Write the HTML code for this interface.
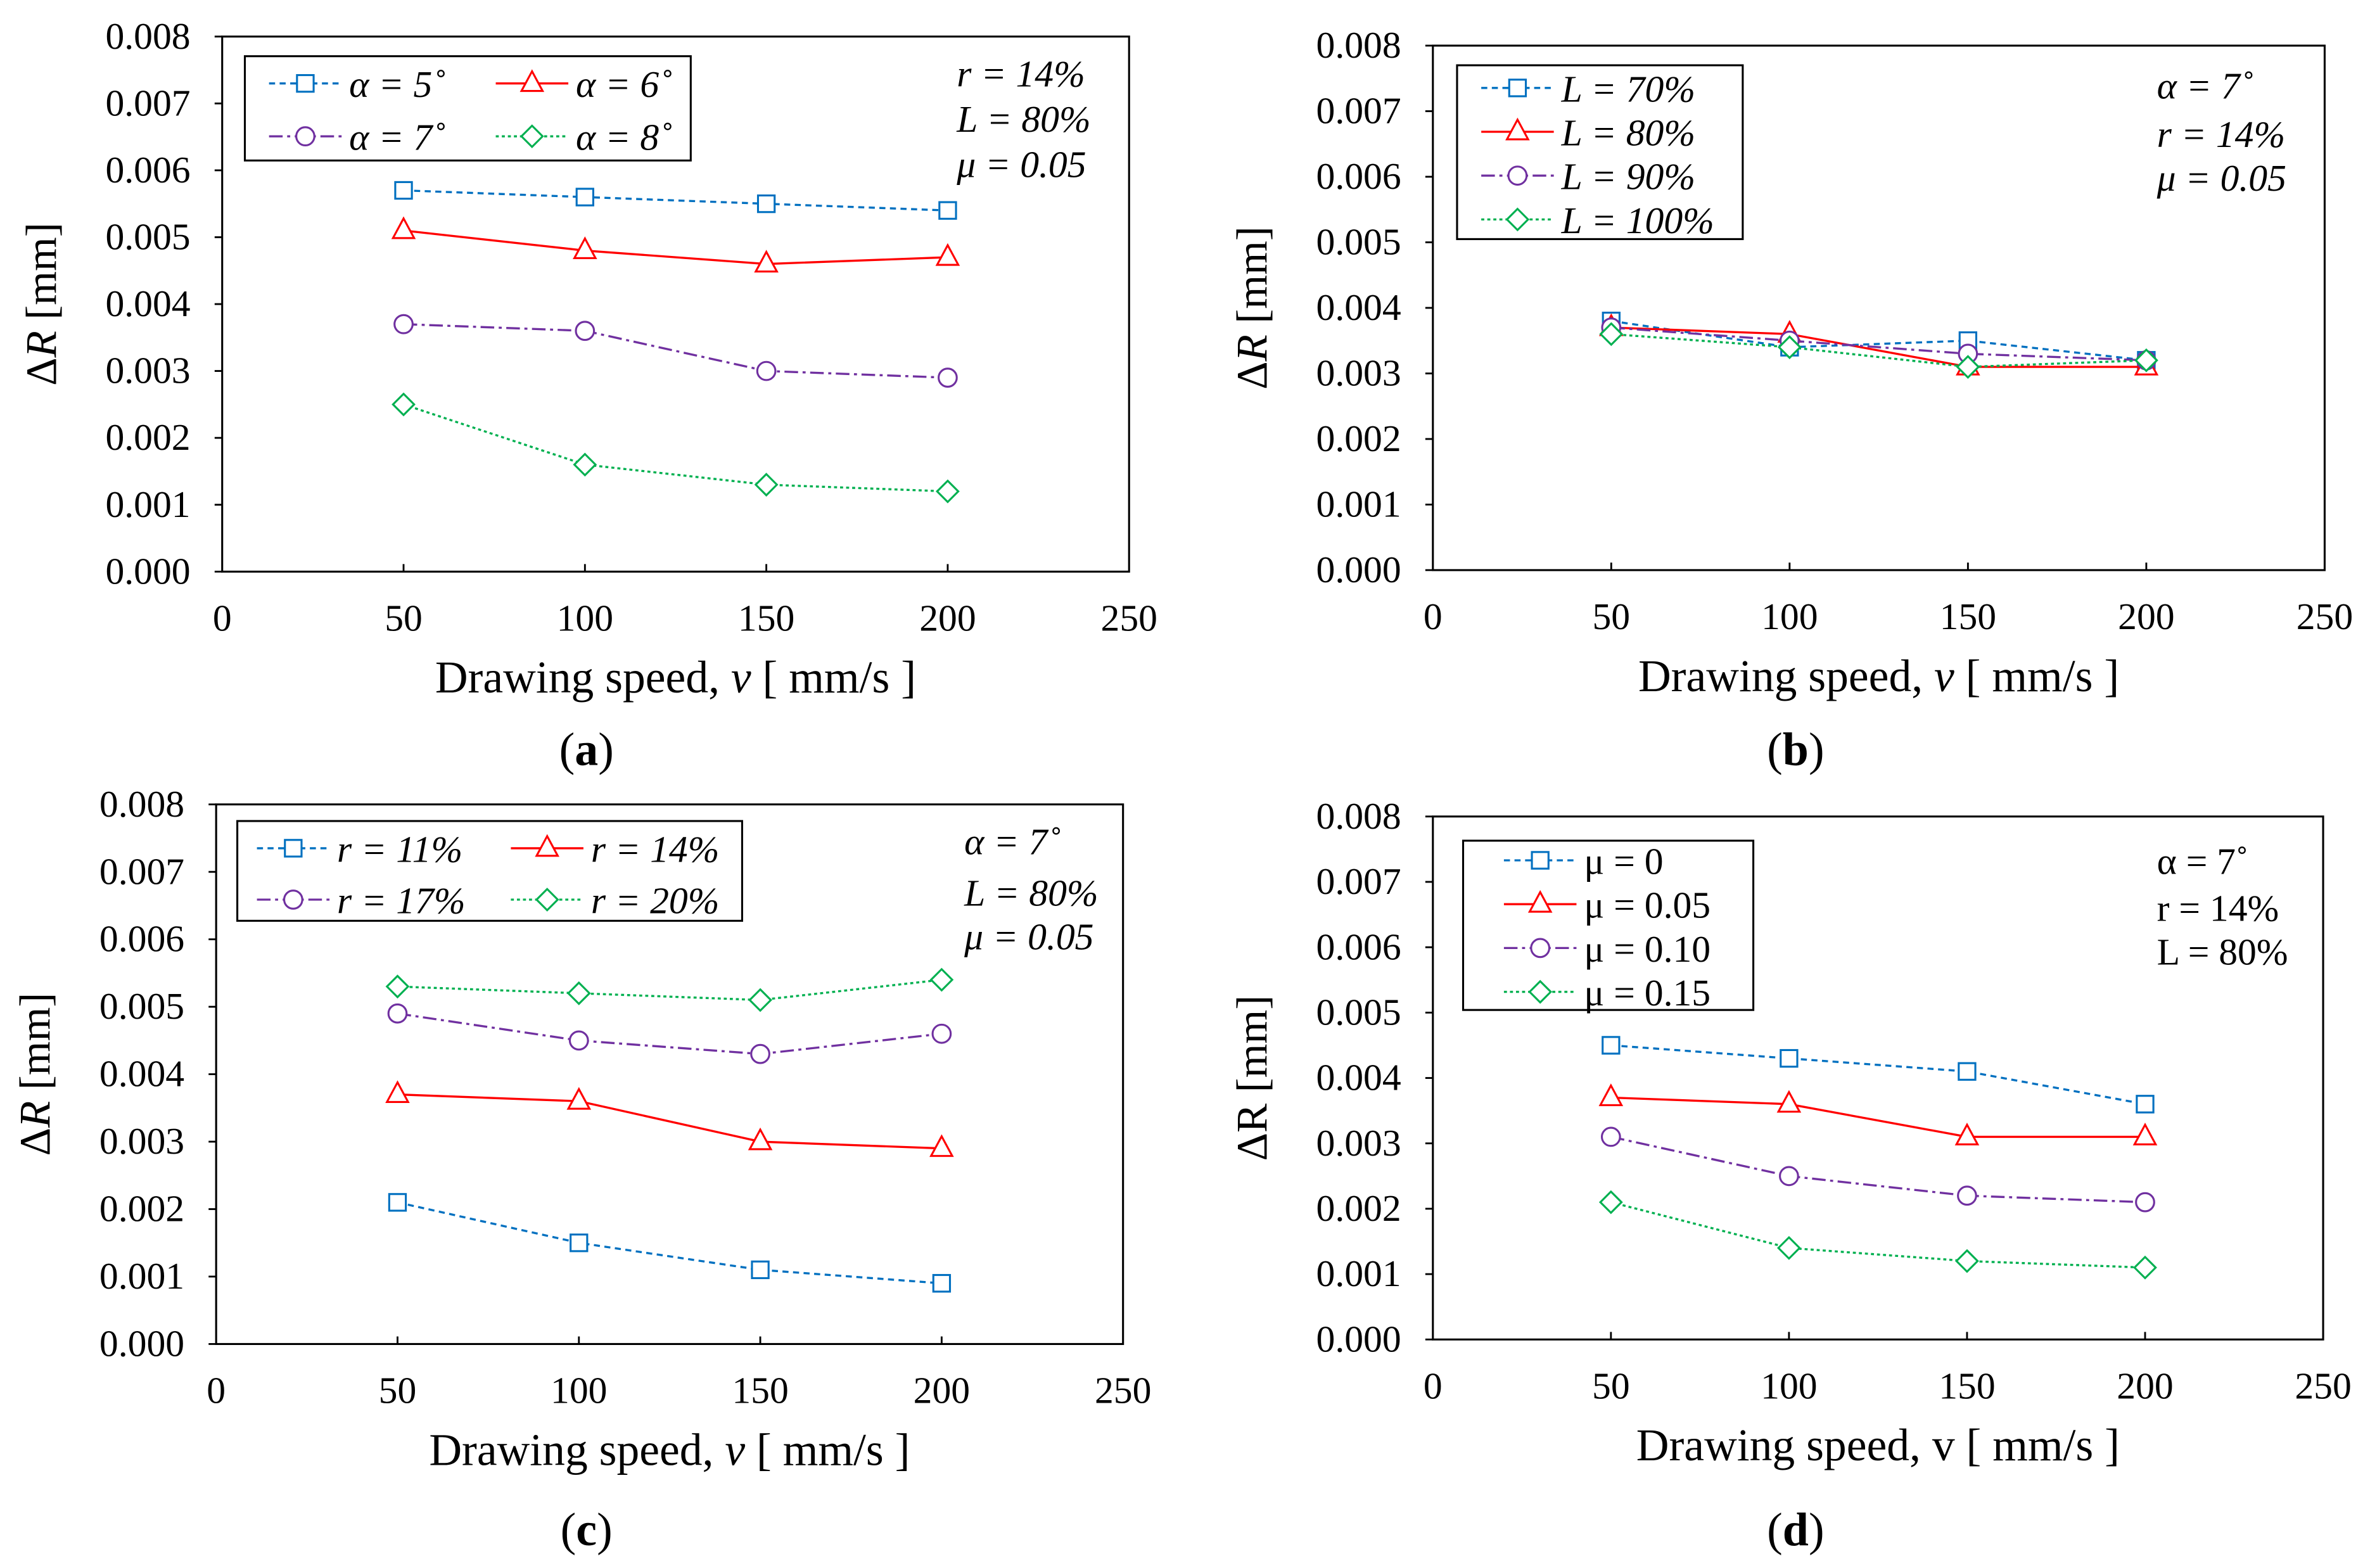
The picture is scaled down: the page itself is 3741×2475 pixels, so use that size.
<!DOCTYPE html>
<html><head><meta charset="utf-8"><style>html,body{margin:0;padding:0;background:#fff}svg{display:block}text{font-family:"Liberation Serif",serif;fill:#000}</style></head>
<body>
<svg id="s" xmlns="http://www.w3.org/2000/svg" width="3741" height="2475" viewBox="0 0 1568 1037"></svg>
<script>
const xTicks=[0,50,100,150,200,250];
const yTicks=["0.000","0.001","0.002","0.003","0.004","0.005","0.006","0.007","0.008"];
const speeds=[50,100,150,200];
const aLabels=["α = 5˚","α = 6˚","α = 7˚","α = 8˚"];
const aS1=[0.0057,0.0056,0.0055,0.0054];
const aS2=[0.0051,0.0048,0.0046,0.0047];
const aS3=[0.0037,0.0036,0.0030,0.0029];
const aS4=[0.0025,0.0016,0.0013,0.0012];
const bLabels=["L = 70%","L = 80%","L = 90%","L = 100%"];
const bS1=[0.0038,0.0034,0.0035,0.0032];
const bS2=[0.0037,0.0036,0.0031,0.0031];
const bS3=[0.0037,0.0035,0.0033,0.0032];
const bS4=[0.0036,0.0034,0.0031,0.0032];
const cLabels=["r = 11%","r = 14%","r = 17%","r = 20%"];
const cS1=[0.0021,0.0015,0.0011,0.0009];
const cS2=[0.0037,0.0036,0.0030,0.0029];
const cS3=[0.0049,0.0045,0.0043,0.0046];
const cS4=[0.0053,0.0052,0.0051,0.0054];
const dLabels=["μ = 0","μ = 0.05","μ = 0.10","μ = 0.15"];
const dS1=[0.0045,0.0043,0.0041,0.0036];
const dS2=[0.0037,0.0036,0.0031,0.0031];
const dS3=[0.0031,0.0025,0.0022,0.0021];
const dS4=[0.0021,0.0014,0.0012,0.0011];

const NS="http://www.w3.org/2000/svg";
const svg=document.getElementById('s');
function el(tag,attrs,parent,txt){const e=document.createElementNS(NS,tag);for(const k in attrs)e.setAttribute(k,attrs[k]);if(txt!==undefined)e.textContent=txt;(parent||svg).appendChild(e);return e;}
const colors=["#0070C0","#FF0000","#7030A0","#00B050"];
const dashes=["4,3","none","9,3,2,3","2,2"];
const mk=["square","triangle","circle","diamond"];
function marker(g,type,x,y,c){let m;
 if(type==="square")m=el('rect',{x:x-5.5,y:y-5.5,width:11,height:11,fill:'#fff',stroke:c,'stroke-width':1.3},g);
 else if(type==="triangle")m=el('polygon',{points:`${x},${y-8} ${x-7},${y+5} ${x+7},${y+5}`,fill:'#fff',stroke:c,'stroke-width':1.3},g);
 else if(type==="circle")m=el('circle',{cx:x,cy:y,r:6,fill:'#fff',stroke:c,'stroke-width':1.3},g);
 else m=el('polygon',{points:`${x},${y-7} ${x+7},${y} ${x},${y+7} ${x-7},${y}`,fill:'#fff',stroke:c,'stroke-width':1.3},g);
 
 
 return m;}
function panel(p){
 const g=el('g',{});
 
 
 const X=v=>p.x0+(v/250)*(p.x1-p.x0);
 const Y=v=>p.y1-(v/0.008)*(p.y1-p.y0);
 const box=el('rect',{x:p.x0,y:p.y0,width:p.x1-p.x0,height:p.y1-p.y0,fill:'none',stroke:'#000','stroke-width':1.3},g);
 
 
 yTicks.forEach(t=>{const v=parseFloat(t),y=Y(v);
  el('line',{x1:p.x0-5,x2:p.x0,y1:y,y2:y,stroke:'#000','stroke-width':1.2},g);
  const tx=el('text',{x:p.x0-21,y:y+8,'font-size':25,'text-anchor':'end'},g,t);
  
  });
 xTicks.forEach(t=>{const x=X(t);
  if(t>0&&t<250)el('line',{x1:x,x2:x,y1:p.y1-5,y2:p.y1,stroke:'#000','stroke-width':1.2},g);
  const tx=el('text',{x:x,y:p.y1+39,'font-size':25,'text-anchor':'middle'},g,String(t));
  
  });
 const xt=el('text',{x:(p.x0+p.x1)/2,y:p.y1+80,'font-size':30,'text-anchor':'middle'},g);
 
 
 el('tspan',{},xt,'Drawing speed, ');el('tspan',{'font-style':p.vItalic?'italic':'normal'},xt,'v');el('tspan',{},xt,' [ mm/s ]');
 const yt=el('text',{transform:`translate(${p.x0-110},${(p.y0+p.y1)/2}) rotate(-90)`,'font-size':29,'text-anchor':'middle'},g);
 
 
 el('tspan',{},yt,'Δ');el('tspan',{'font-style':p.vItalic?'italic':'normal'},yt,'R');el('tspan',{},yt,' [mm]');
 p.series.forEach((s,i)=>{
  const sg=el('g',{},g);
  
  
  const pts=s.map((v,j)=>X(speeds[j])+','+Y(v)).join(' ');
  el('polyline',{points:pts,fill:'none',stroke:colors[i],'stroke-width':1.4,'stroke-dasharray':dashes[i]},sg);
  s.forEach((v,j)=>marker(sg,mk[i],X(speeds[j]),Y(v),colors[i]));
 });
 const L=p.leg;
 const lb=el('rect',{x:L.x,y:L.y,width:L.w,height:L.h,fill:'#fff',stroke:'#000','stroke-width':1.3},g);
 
 
 p.labels.forEach((lab,i)=>{const e=L.items[i];
  const lg=el('g',{},g);
  
  
  el('line',{x1:e[0],x2:e[0]+48,y1:e[1],y2:e[1],stroke:colors[i],'stroke-width':1.4,'stroke-dasharray':dashes[i]},lg);
  marker(lg,mk[i],e[0]+24,e[1],colors[i]);
  el('text',{x:e[0]+53,y:e[1]+9,'font-size':25,'font-style':p.legItalic?'italic':'normal'},lg,lab);
 });
 p.notes.forEach((n,i)=>{const t=el('text',{x:p.nx,y:p.ny[i],'font-size':25,'font-style':p.legItalic?'italic':'normal'},g,n);
  
  });
 const cap=el('text',{x:p.cx,y:p.cy,'font-size':31,'text-anchor':'middle'},g);
 
 
 el('tspan',{},cap,'(');el('tspan',{'font-weight':'bold'},cap,p.id);el('tspan',{},cap,')');
}
panel({id:'a',x0:147,x1:747,y0:24,y1:378,vItalic:true,legItalic:true,series:[aS1,aS2,aS3,aS4],labels:aLabels,
 leg:{x:162,y:37,w:295,h:69,items:[[178,55],[328,55],[178,90],[328,90]]},
 notes:["r = 14%","L = 80%","μ = 0.05"],nx:633,ny:[57,87,117],cx:388,cy:506});
panel({id:'b',x0:948,x1:1538,y0:30,y1:377,vItalic:true,legItalic:true,series:[bS1,bS2,bS3,bS4],labels:bLabels,
 leg:{x:964,y:43,w:189,h:115,items:[[980,58],[980,87],[980,116],[980,145]]},
 notes:["α = 7˚","r = 14%","μ = 0.05"],nx:1427,ny:[65,97,126],cx:1188,cy:506});
panel({id:'c',x0:143,x1:743,y0:532,y1:889,vItalic:true,legItalic:true,series:[cS1,cS2,cS3,cS4],labels:cLabels,
 leg:{x:157,y:543,w:334,h:66,items:[[170,561],[338,561],[170,595],[338,595]]},
 notes:["α = 7˚","L = 80%","μ = 0.05"],nx:638,ny:[565,599,628],cx:388,cy:1022});
panel({id:'d',x0:948,x1:1537,y0:540,y1:886,vItalic:false,legItalic:false,series:[dS1,dS2,dS3,dS4],labels:dLabels,
 leg:{x:968,y:556,w:192,h:112,items:[[995,569],[995,598],[995,627],[995,656]]},
 notes:["α = 7˚","r = 14%","L = 80%"],nx:1427,ny:[578,609,638],cx:1188,cy:1022});
</script>
</body></html>
